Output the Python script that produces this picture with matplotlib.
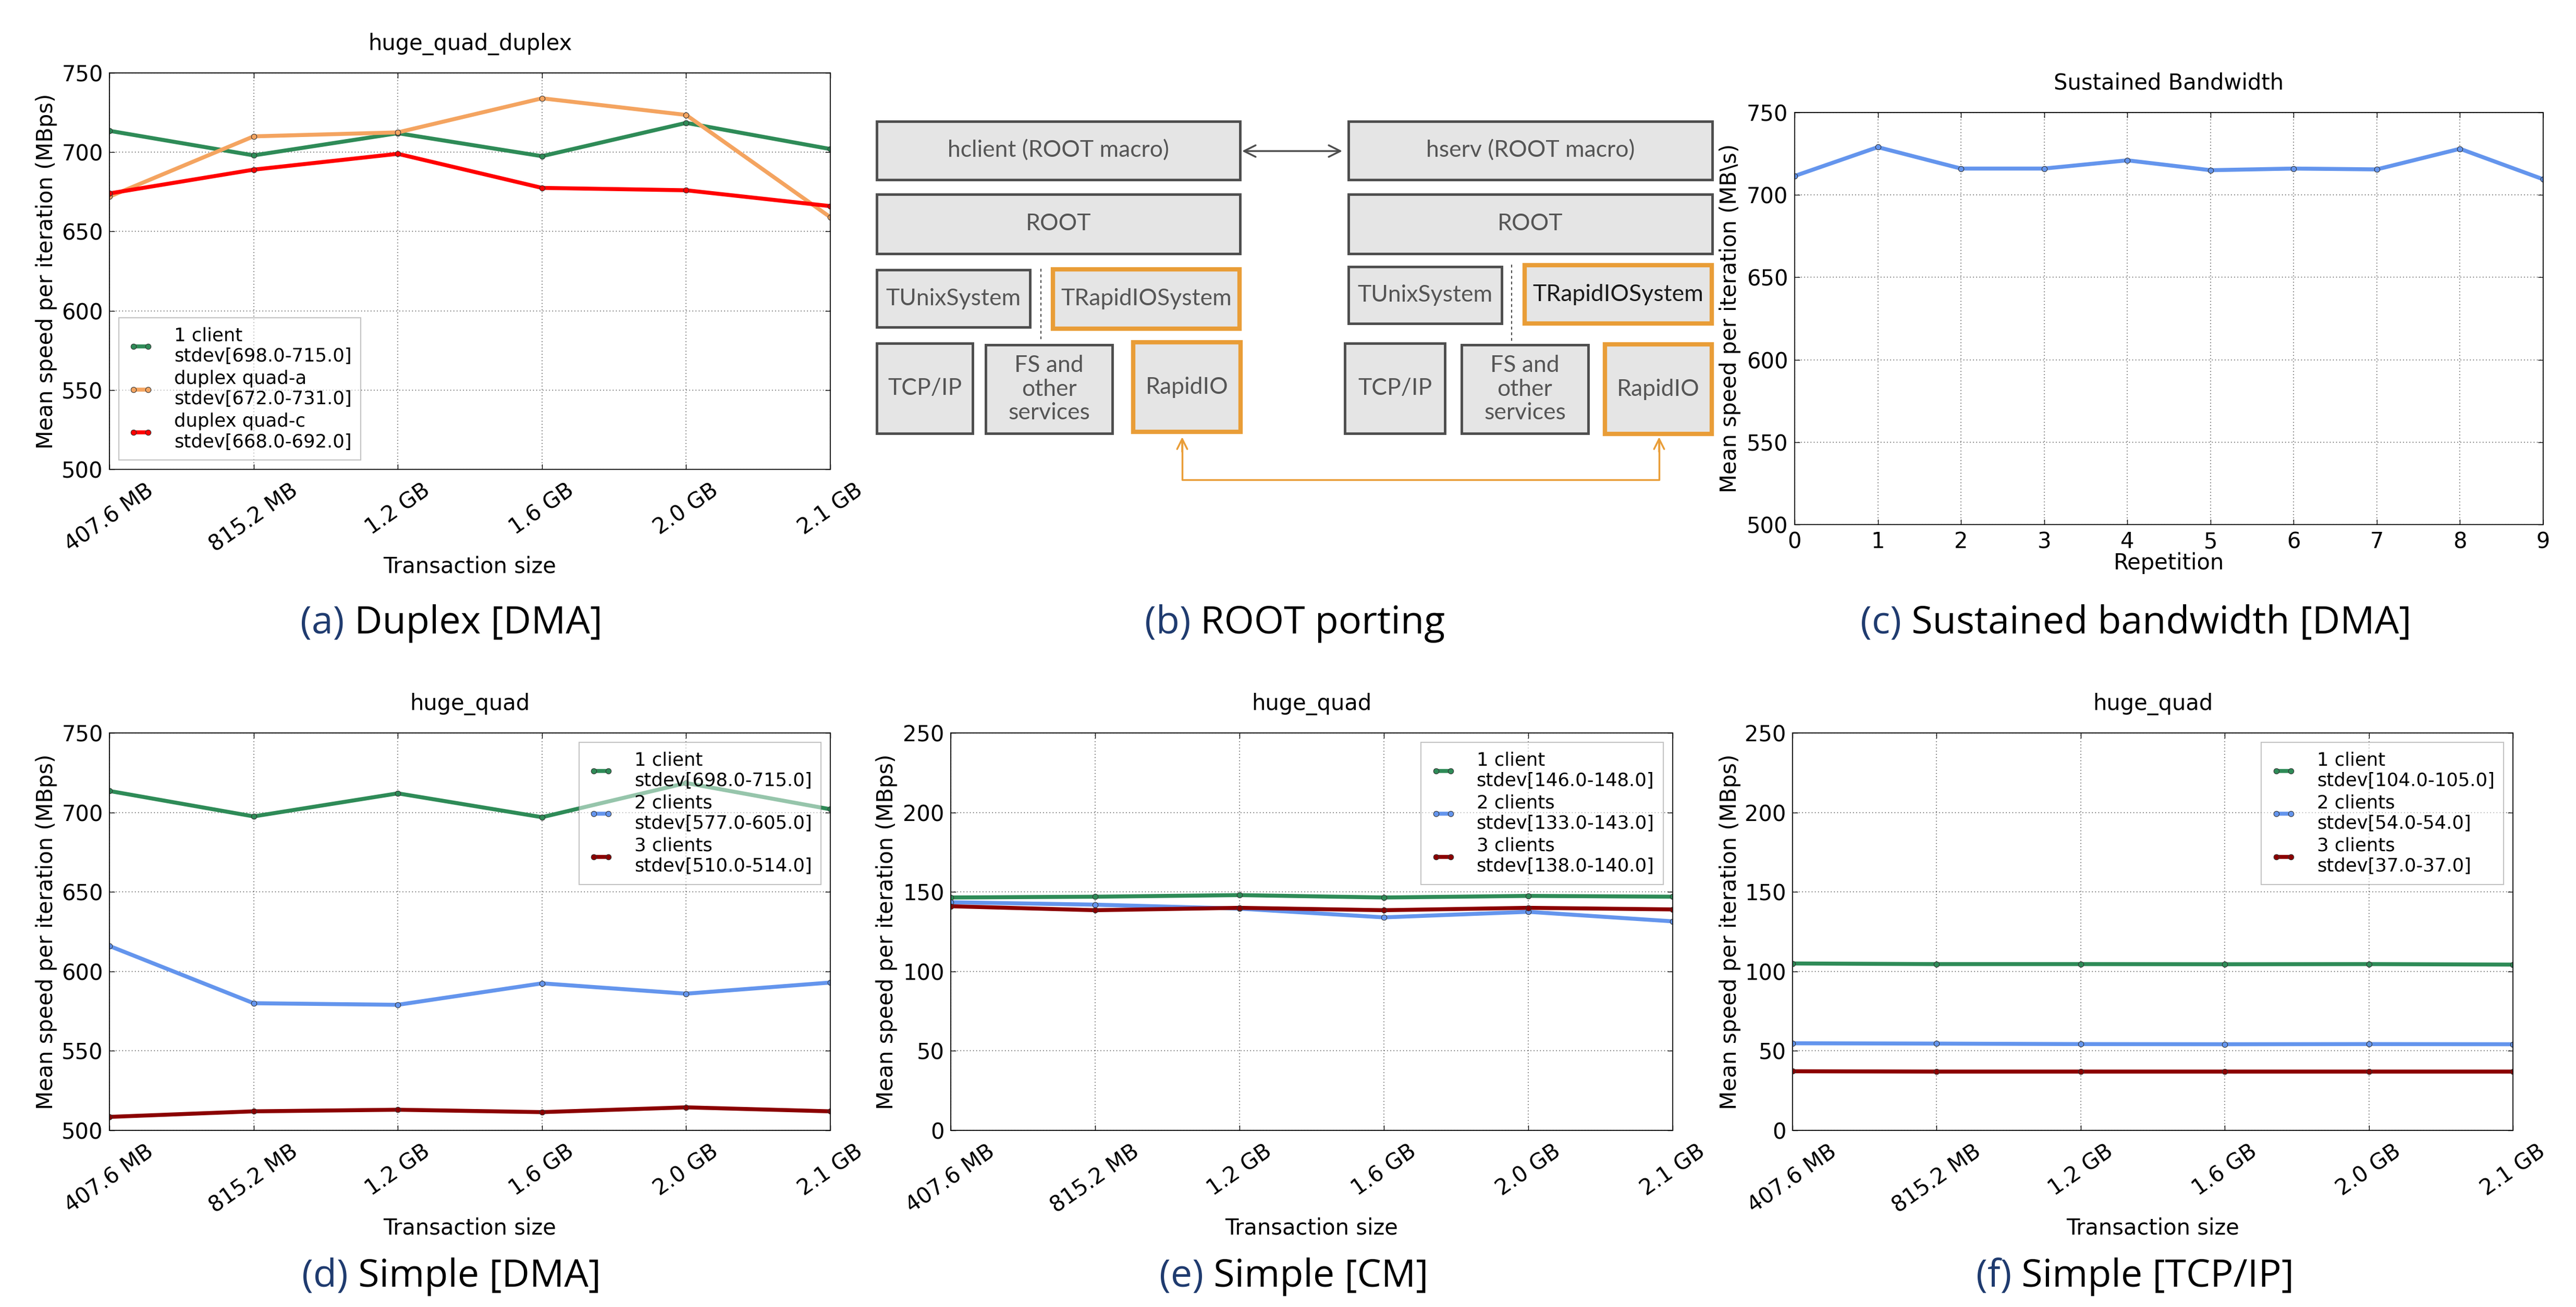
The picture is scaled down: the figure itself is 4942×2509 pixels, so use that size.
import matplotlib
matplotlib.use('Agg')
import matplotlib.pyplot as plt
from matplotlib.patches import Rectangle
from matplotlib.transforms import blended_transform_factory as blend

W, H = 4942, 2509

##-- data --##
sizes = ['407.6 MB', '815.2 MB', '1.2 GB', '1.6 GB', '2.0 GB', '2.1 GB']

duplex_one = [713.5, 698, 712, 697.5, 718.5, 702]
duplex_quad_a = [672, 710, 712.5, 734, 723.5, 659]
duplex_quad_c = [674, 689, 699, 677.5, 676, 666]
duplex_labels = ['1 client\nstdev[698.0-715.0]',
                 'duplex quad-a\nstdev[672.0-731.0]',
                 'duplex quad-c\nstdev[668.0-692.0]']

repetition = list(range(10))
sustained = [711.5, 729, 716, 716, 721, 715, 716, 715.5, 728, 709.5]

dma_1 = [713.5, 697.5, 712, 697, 718.5, 702]
dma_2 = [616, 580, 579, 592.5, 586, 593]
dma_3 = [508.5, 512, 513, 511.5, 514.5, 512]
dma_labels = ['1 client\nstdev[698.0-715.0]',
              '2 clients\nstdev[577.0-605.0]',
              '3 clients\nstdev[510.0-514.0]']

cm_1 = [146.5, 147, 148, 146.5, 147.5, 147]
cm_2 = [143.5, 142, 139.5, 134, 137.5, 131.5]
cm_3 = [141, 138.5, 140, 138.5, 140, 139]
cm_labels = ['1 client\nstdev[146.0-148.0]',
             '2 clients\nstdev[133.0-143.0]',
             '3 clients\nstdev[138.0-140.0]']

tcp_1 = [105, 104.6, 104.6, 104.5, 104.6, 104.3]
tcp_2 = [54.8, 54.6, 54.3, 54.2, 54.3, 54.2]
tcp_3 = [37.2, 37, 37, 37, 37, 37]
tcp_labels = ['1 client\nstdev[104.0-105.0]',
              '2 clients\nstdev[54.0-54.0]',
              '3 clients\nstdev[37.0-37.0]']

captions = [('(a)', ' Duplex [DMA]'), ('(b)', ' ROOT porting'), ('(c)', ' Sustained bandwidth [DMA]'),
            ('(d)', ' Simple [DMA]'), ('(e)', ' Simple [CM]'), ('(f)', ' Simple [TCP/IP]')]

##-- style --##
GREEN, ORANGE, RED = '#2e8b57', '#f4a460', '#ff0000'
BLUE, DARKRED = '#6495ed', '#8b0000'
NAVY = '#1f3b6f'
FS = 30
LW, MS = 5.5, 7.5

fig = plt.figure(figsize=(W / 100, H / 100), dpi=100)
plt.rcParams['font.family'] = 'DejaVu Sans'

#-- diagram canvas in pixel coords (drawn first, sits behind) --#
axd = fig.add_axes([0, 0, 1, 1])
axd.set_xlim(0, W)
axd.set_ylim(H, 0)
axd.axis('off')


def px_axes(x0, y0, x1, y1):
    return fig.add_axes([x0 / W, 1 - y1 / H, (x1 - x0) / W, (y1 - y0) / H])


def setup(ax, title, ylabel, ylab_x, xlabel, xlab_y):
    ax.set_title(title, fontsize=FS, pad=32)
    ax.grid(True, ls=(0, (1, 3)), color='#444444', lw=1.1)
    ax.tick_params(direction='in', length=7, width=1, top=True, right=True, labelsize=FS)
    ax.tick_params(axis='y', pad=9)
    for s in ax.spines.values():
        s.set_linewidth(1.3)
    ax.set_ylabel(ylabel, fontsize=FS)
    ax.yaxis.set_label_coords(ylab_x / W, 0.5, transform=blend(fig.transFigure, ax.transAxes))
    ax.yaxis.label.set_va('center')
    ax.set_xlabel(xlabel, fontsize=FS)
    ax.xaxis.set_label_coords(0.5, 1 - xlab_y / H, transform=blend(ax.transAxes, fig.transFigure))
    ax.xaxis.label.set_va('baseline')


def draw_lines(ax, series, colors, labels):
    x = range(len(sizes))
    for y, c, lab in zip(series, colors, labels):
        ax.plot(x, y, '-o', color=c, lw=LW, ms=MS, mec='#333333', mew=0.8, label=lab)
    ax.set_xlim(0, len(sizes) - 1)
    ax.set_xticks(list(x))
    ax.set_xticklabels(sizes, rotation=35)
    ax.tick_params(axis='x', pad=14)


def add_legend(ax, loc):
    leg = ax.legend(loc=loc, fontsize=25.5, numpoints=2, handlelength=1.4, handletextpad=1.1,
                    borderpad=0.5, labelspacing=0.25, borderaxespad=0.5,
                    framealpha=0.5, fancybox=False, edgecolor='#888888')
    leg.get_frame().set_linewidth(1.5)


ylab = 'Mean speed per iteration (MBps)'

##-- (a) duplex --##
ax = px_axes(210, 140, 1593, 901)
draw_lines(ax, [duplex_one, duplex_quad_a, duplex_quad_c], [GREEN, ORANGE, RED], duplex_labels)
ax.set_ylim(500, 750)
setup(ax, 'huge_quad_duplex', ylab, 89, 'Transaction size', 1100)
add_legend(ax, 'lower left')

##-- (c) sustained --##
ax = px_axes(3443, 216, 4879, 1007)
ax.plot(repetition, sustained, '-o', color=BLUE, lw=LW, ms=MS, mec='#333333', mew=0.8)
ax.set_xlim(0, 9)
ax.set_xticks(repetition)
ax.set_ylim(500, 750)
setup(ax, 'Sustained Bandwidth', r'Mean speed per iteration (MB\s)', 3319, 'Repetition', 1093)
ax.tick_params(axis='x', pad=9)

##-- (d) (e) (f) simple --##
bottom = [((210, 1593), [dma_1, dma_2, dma_3], dma_labels, (500, 750), 89),
          ((1824, 3209), [cm_1, cm_2, cm_3], cm_labels, (0, 250), 1701),
          ((3439, 4821), [tcp_1, tcp_2, tcp_3], tcp_labels, (0, 250), 3319)]
for (x0, x1), series, labels, ylim, ylx in bottom:
    ax = px_axes(x0, 1407, x1, 2170)
    draw_lines(ax, series, [GREEN, BLUE, DARKRED], labels)
    ax.set_ylim(*ylim)
    setup(ax, 'huge_quad', ylab, ylx, 'Transaction size', 2369)
    add_legend(ax, 'upper right')

##-- (b) ROOT porting diagram --##
BOX_FILL, BOX_EDGE, ORG, TXT = '#e5e5e5', '#4d4d4d', '#e99d37', '#555555'
boxes = [  # x0, y0, x1, y1, text, highlighted
    (1682, 233, 2379, 345, 'hclient (ROOT macro)', False),
    (2587, 233, 3285, 345, 'hserv (ROOT macro)', False),
    (1682, 373, 2379, 487, 'ROOT', False),
    (2587, 373, 3285, 487, 'ROOT', False),
    (1682, 518, 1976, 628, 'TUnixSystem', False),
    (2020, 517, 2378, 631, 'TRapidIOSystem', True),
    (2587, 512, 2881, 621, 'TUnixSystem', False),
    (2925, 509, 3284, 621, 'TRapidIOSystem', True),
    (1682, 659, 1866, 832, 'TCP/IP', False),
    (1891, 662, 2134, 832, 'FS and\nother\nservices', False),
    (2174, 657, 2380, 829, 'RapidIO', True),
    (2580, 659, 2772, 832, 'TCP/IP', False),
    (2804, 662, 3047, 832, 'FS and\nother\nservices', False),
    (3079, 661, 3284, 833, 'RapidIO', True),
]
for i, (x0, y0, x1, y1, txt, hi) in enumerate(boxes):
    axd.add_patch(Rectangle((x0, y0), x1 - x0, y1 - y0, facecolor=BOX_FILL,
                            edgecolor=ORG if hi else BOX_EDGE, lw=6 if hi else 3.5))
    tc = '#1a1a1a' if i == 7 else TXT
    axd.text((x0 + x1) / 2, (y0 + y1) / 2, txt, ha='center', va='center', color=tc,
             family='Lato', fontsize=32, linespacing=1.15)

axd.plot([1997, 1997], [516, 651], color='#333333', lw=1.3, ls=(0, (3, 3)))
axd.plot([2900, 2900], [508, 657], color='#333333', lw=1.3, ls=(0, (3, 3)))
axd.annotate('', xy=(2578, 290), xytext=(2380, 290),
             arrowprops=dict(arrowstyle='<->', color='#4d4d4d', lw=2.5, mutation_scale=40))
axd.plot([2268, 2268, 3183, 3183], [850, 921, 921, 850], color=ORG, lw=2.5)
for xa in (2268, 3183):
    axd.annotate('', xy=(xa, 836), xytext=(xa, 870),
                 arrowprops=dict(arrowstyle='->', color=ORG, lw=2.5, mutation_scale=35))

##-- captions --##
renderer = fig.canvas.get_renderer()
cap_pos = [(866, 1216), (2484, 1216), (4098, 1216), (866, 2470), (2482, 2470), (4096, 2470)]
for (tag, rest), (xc, yb) in zip(captions, cap_pos):
    kw = dict(fontsize=53, family='Open Sans', va='baseline')
    t = fig.text(0, 0, tag + rest, **kw)
    w = t.get_window_extent(renderer).width
    t.remove()
    x0 = xc - w / 2
    fig.text(x0 / W, 1 - yb / H, tag, color=NAVY, ha='left', **kw)
    fig.text((x0 + w) / W, 1 - yb / H, rest, color='black', ha='right', **kw)

fig.savefig('out.png', dpi=100)
